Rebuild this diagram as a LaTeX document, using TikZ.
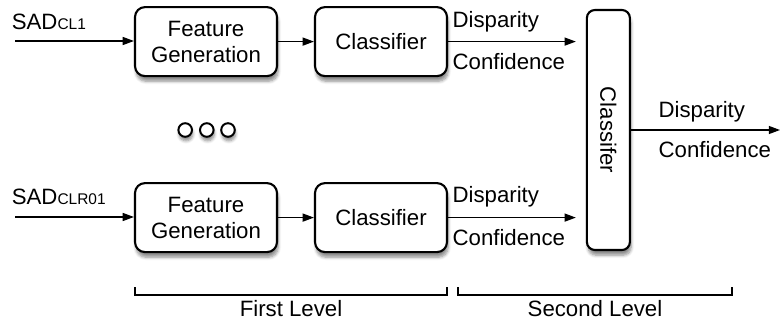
\documentclass[tikz,border=0pt]{standalone}
\usepackage{fontspec}
\setmainfont{Liberation Sans}
\usetikzlibrary{shadows.blur,arrows.meta}
\tikzset{
  blok/.style={draw, line width=1.5pt, rounded corners=0.25cm, fill=white, align=center,
    minimum height=1.725cm, blur shadow={shadow xshift=0.03cm, shadow yshift=-0.13cm, shadow blur steps=6, shadow opacity=45}},
  lbl/.style={anchor=west, inner sep=0pt},
  dot/.style={circle, draw, line width=1.4pt, fill=white, minimum size=0.34cm, inner sep=0pt,
    blur shadow={shadow xshift=0.02cm, shadow yshift=-0.1cm, shadow blur steps=5, shadow opacity=45}},
}
\newcommand{\subsm}[1]{{\fontsize{11}{12}\selectfont #1}}
\begin{document}
\begin{tikzpicture}[>={Triangle[length=0.28cm,width=0.2cm]}, line width=0.9pt, font=\fontsize{15.8}{18.5}\selectfont]
\useasboundingbox (0,0) rectangle (19.5,-8.05);
% first level
\node[blok, minimum width=3.55cm] (fg1) at (5.15,-1.04) {Feature\\Generation};
\node[blok, minimum width=3.3cm] (cl1) at (9.525,-1.04) {Classifier};
\node[blok, minimum width=3.55cm] (fg2) at (5.15,-5.44) {Feature\\Generation};
\node[blok, minimum width=3.3cm] (cl2) at (9.525,-5.44) {Classifier};
\foreach \i/\x in {1/4.63,2/5.17,3/5.7}
  \node[dot] (d\i) at (\x,-3.25) {};
% second level
\node[blok, rounded corners=0.2cm, minimum width=1.075cm, minimum height=6cm] (cl3) at (15.21,-3.25) {};
\node[rotate=-90] (cl3t) at (cl3) {Classifer};
% inputs
\coordinate (in1) at (0.375,-1.025);
\coordinate (in2) at (0.375,-5.425);
\node[lbl] (sad1) at (0.28,-0.55) {SAD\subsm{CL1}};
\node[lbl] (sad2) at (0.28,-4.93) {SAD\subsm{CLR01}};
\draw[->] (in1) -- (fg1.west |- in1);
\draw[->] (in2) -- (fg2.west |- in2);
\draw[->] (fg1) -- (cl1);
\draw[->] (fg2) -- (cl2);
\draw[->, shorten >=0.25cm] (cl1.east) -- (cl1.east -| cl3.west);
\draw[->, shorten >=0.25cm] (cl2.east) -- (cl2.east -| cl3.west);
\node[lbl] (dis1) at (11.3,-0.55) {Disparity};
\node[lbl] (con1) at (11.3,-1.55) {Confidence};
\node[lbl] (dis2) at (11.3,-4.93) {Disparity};
\node[lbl] (con2) at (11.3,-5.95) {Confidence};
% output
\coordinate (out) at (19.5,-3.25);
\draw[->] (cl3.east) -- (out);
\node[lbl] (dis3) at (16.45,-2.8) {Disparity};
\node[lbl] (con3) at (16.45,-3.75) {Confidence};
% levels
\coordinate (b1a) at (3.375,-7.175);
\coordinate (b1b) at (11.175,-7.175);
\coordinate (b2a) at (11.45,-7.175);
\coordinate (b2b) at (18.3,-7.175);
\draw[line width=1.1pt] (b1a) -- ++(0,-0.2) -| (b1b);
\draw[line width=1.1pt] (b2a) -- ++(0,-0.2) -| (b2b);
\node (lev1) at (7.275,-7.72) {First Level};
\node (lev2) at (14.875,-7.72) {Second Level};
\end{tikzpicture}
\end{document}
